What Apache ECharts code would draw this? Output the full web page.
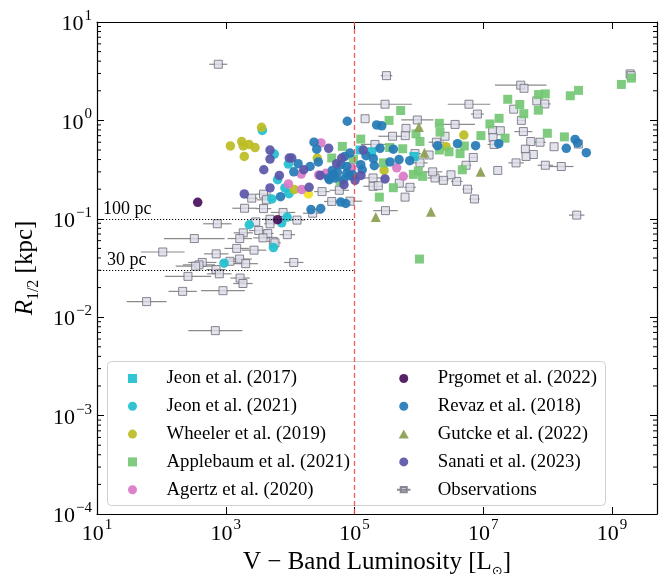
<!DOCTYPE html>
<html><head><meta charset="utf-8">
<script src="https://cdn.jsdelivr.net/npm/echarts@6/dist/echarts.min.js"></script>
<style>html,body{margin:0;padding:0;background:#fff}#c{width:663px;height:574px}</style>
</head><body><div id="c"></div>
<script>
// ---------- data: [V-band luminosity (Lsun), R_1/2 (kpc)] ----------
const jeon2017 = [[1.22e5,0.50],[1.85e5,0.48],[8.4e5,0.43]];
const jeon2021 = [[3700,0.79],[5680,0.455],[9400,0.36],[6400,0.25],[8300,0.206],[9600,0.18],[5200,0.159],[2320,0.087],[9000,0.104],[7400,0.091],[5500,0.051],[940,0.0354]];
const wheeler2019 = [[3600,0.85],[1770,0.61],[1870,0.55],[2300,0.57],[2850,0.53],[1180,0.55],[1940,0.43],[26400,0.415],[11600,0.198],[2.88e5,0.31],[2.64e6,0.54],[5.0e6,0.71]];
const wheelerBright = [[19200,0.179]];
const applebaum2021 = [[1.25e5,0.646],[6.47e4,0.544],[4.43e4,0.415],[9.6e4,0.40],[5.22e5,1.26],[3.44e5,1.0],[9.03e5,0.73],[1.04e6,0.61],[2.08e6,0.935],[2.13e6,0.76],[1.27e7,0.92],[1.76e7,1.05],[2.4e7,1.64],[9.2e6,0.70],[2.18e7,0.66],[3.69e7,1.45],[4.26e7,1.17],[7.18e7,1.27],[7.23e7,1.83],[9.2e7,1.86],[2.25e8,1.78],[3.02e8,2.02],[1.4e9,2.32],[2.0e9,2.69],[9.9e7,0.74],[1.82e8,0.68],[2.94e6,0.48],[2.08e6,0.50],[4.36e6,0.46],[4.73e6,0.315],[5.08e6,0.55],[5.61e5,0.515],[3.52e5,0.53],[2.81e5,0.37],[8.2e5,0.283],[9.8e5,0.305],[1.14e6,0.27],[4.01e5,0.207],[2.43e5,0.166],[1.02e6,0.039],[5.96e4,0.24]];
const agertz2020 = [[30200,0.59],[14900,0.285],[9400,0.226],[15100,0.198],[27800,0.279],[35700,0.29],[4.53e5,0.33],[5.73e5,0.27],[91000,0.33]];
const prgomet2022 = [[367,0.147],[6400,0.098]];
const revaz2018 = [[77300,0.98],[2.21e5,0.90],[2.65e5,0.88],[23500,0.60],[25900,0.51],[13300,0.363],[11400,0.30],[20400,0.34],[27400,0.378],[7100,0.168],[61100,0.148],[73100,0.143],[21100,0.124],[29900,0.127],[85100,0.466],[45200,0.31],[61100,0.355],[75700,0.341],[54100,0.296],[75700,0.29],[39700,0.26],[49800,0.26],[67000,0.25],[83000,0.274],[70500,0.43],[40600,0.25],[46900,0.28],[93800,0.28],[1.51e5,0.438],[1.96e5,0.408],[1.25e5,0.355],[1.32e5,0.315],[2.03e5,0.346],[3.56e5,0.378],[4.92e5,0.40],[4.01e5,0.51],[2.49e5,0.52],[7.21e5,0.39],[1.95e6,0.553],[3.98e6,0.58],[7.6e6,0.553],[1.74e7,0.58],[2.67e8,0.64],[2.92e8,0.59],[1.95e8,0.52],[3.99e8,0.47]];
const gutcke2022 = [[1.0e6,0.855],[1.22e6,0.47],[9.1e6,0.30],[2.14e5,0.104],[1.54e6,0.118]];
const sanati2023 = [[4870,0.50],[4870,0.405],[3900,0.315],[9700,0.415],[10600,0.415],[16300,0.315],[6800,0.276],[4870,0.206],[1940,0.179],[19700,0.209],[29400,0.276],[39700,0.52],[52900,0.363],[63300,0.415],[68700,0.222],[1.02e5,0.246],[1.37e5,0.50],[2.98e5,0.254],[1.26e5,0.276]];
// observations: [L, R, half-width of L error bar in dex]
const observations = [[766,3.72,0.14],[3.14e5,2.85,0.09],[2.98e5,1.46,0.42],[1.46e5,1.04,0],[6.0e6,1.46,0.33],[8.1e6,1.16,0.1],[3.82e7,2.28,0.4],[4.3e7,2.12,0],[6.78e7,1.58,0],[9.06e7,1.47,0.09],[2.97e7,1.30,0],[3.91e7,1.0,0.06],[1.91e9,2.97,0.05],[1.98e9,2.85,0.05],[9.46e5,1.01,0.25],[6.31e5,0.83,0],[3.9e5,0.69,0.22],[6.15e5,0.70,0],[3.65e6,0.91,0.31],[2.55e6,0.69,0],[1.4e7,0.79,0],[1.84e7,0.785,0],[1.42e7,0.67,0],[1.47e7,0.57,0.1],[4.2e7,0.77,0.14],[5.47e7,0.61,0],[7.62e7,0.60,0.09],[1.26e8,0.54,0],[3.0e8,0.575,0],[4.51e7,0.51,0],[6.0e7,0.45,0],[4.62e7,0.43,0],[3.23e7,0.37,0.12],[9.2e7,0.35,0.12],[1.63e8,0.34,0.19],[2.83e8,0.109,0.12],[1.68e7,0.31,0],[7.0e6,0.42,0.06],[5.4e6,0.35,0.08],[7.3e6,0.159,0.08],[5.7e6,0.2,0.08],[3.87e6,0.24,0.09],[3.15e6,0.28,0],[2.4e6,0.246,0.08],[1.78e6,0.26,0.12],[1.64e6,0.30,0.15],[1.87e6,0.60,0.12],[1.44e6,0.445,0],[8.71e5,0.46,0.09],[1.04e6,0.37,0.12],[7.28e5,0.209,0.09],[6.1e5,0.166,0],[4.97e5,0.23,0],[1.94e5,0.26,0.15],[1.94e5,0.214,0.15],[2.34e5,0.217,0],[3.03e5,0.121,0.19],[2.08e5,0.57,0.22],[8.51e4,0.151,0.19],[4.43e4,0.150,0.12],[5.81e4,0.195,0.15],[3.13e4,0.189,0.12],[2.24e4,0.114,0.15],[1.28e4,0.097,0.12],[7760,0.116,0.19],[4870,0.099,0.12],[4870,0.089,0.09],[3860,0.127,0.12],[1960,0.128,0.19],[2530,0.162,0.09],[3860,0.178,0.12],[4270,0.156,0.15],[740,0.089,0.22],[2920,0.093,0],[1870,0.072,0.15],[3250,0.076,0.15],[4490,0.071,0.09],[1650,0.063,0.19],[3790,0.064,0.15],[9040,0.069,0.12],[325,0.063,0.47],[5480,0.059,0.09],[5820,0.057,0.09],[1480,0.050,0.19],[2750,0.048,0.19],[105,0.046,0.34],[711,0.044,0.19],[1640,0.039,0.19],[1160,0.037,0.15],[2040,0.035,0.19],[432,0.036,0.22],[384,0.034,0.25],[341,0.033,0.31],[11400,0.036,0.15],[706,0.0305,0.15],[794,0.0276,0.19],[259,0.026,0.36],[1670,0.025,0.15],[1850,0.022,0.15],[214,0.0183,0.22],[906,0.0186,0.34],[59,0.0144,0.31],[689,0.0073,0.42]];
// reference lines
const refLuminosity = 1e5;
const refRadii = [0.1, 0.03];
const refRadiusLabels = ['100 pc', '30 pc'];
// axis ticks
const minorMantissas = [2,3,4,5,6,7,8,9];
const yDecades = [1e-4,1e-3,1e-2,1e-1,1];

const F = 'Liberation Serif';
function powLabel(v){
  const e = Math.log10(v), r = Math.round(e);
  if (Math.abs(e - r) > 1e-6) return '';
  return '{b|10}{s|' + (r < 0 ? '\u2212' + (-r) : r) + '}';
}
const tickRich = {
  b: {fontFamily: F, fontSize: 22, color: '#000', verticalAlign: 'bottom', padding: [5,0,0,0]},
  s: {fontFamily: F, fontSize: 15, color: '#000', verticalAlign: 'top', padding: [0,0,0,1]}
};
const minorY = [];
yDecades.forEach(d => minorMantissas.forEach(m => minorY.push(m * d)));

const SQUARE_ICON = 'path://M0,0L10,0L10,10L0,10Z';
const TRI_ICON = 'path://M5,0L10,9L0,9Z';
const OBS_ICON = 'path://M9,-1L9,-1M9,11L9,11M0,5L18,5M5,1.5L13,1.5L13,8.5L5,8.5Z';

const chart = echarts.init(document.getElementById('c'));
const sim = (name, data, color, symbol, size) => ({
  name, type: 'scatter', data, symbol, symbolSize: size, silent: true, z: 3,
  itemStyle: {color, opacity: 0.92}
});
const xBase = {type: 'log', logBase: 10, min: 10, max: 5e9, interval: 2,
  axisLine: {show: true, lineStyle: {color: '#000', width: 1.2}},
  axisTick: {show: true, inside: true, length: 7, lineStyle: {color: '#000'}},
  splitLine: {show: false}};
const yBase = {type: 'log', logBase: 10, min: 1e-4, max: 10, interval: 1,
  axisLine: {show: true, lineStyle: {color: '#000', width: 1.2}},
  axisTick: {show: true, inside: true, length: 7, lineStyle: {color: '#000'}},
  splitLine: {show: false}};
const legendText = {fontFamily: F, fontSize: 18.8, color: '#000', lineHeight: 16};

const option = {
  animation: false,
  backgroundColor: '#fff',
  textStyle: {fontFamily: F},
  grid: {left: 97, right: 6, top: 22, bottom: 60, containLabel: false, outerBoundsMode: 'none'},
  xAxis: [
    Object.assign({}, xBase, {position: 'bottom',
      axisLabel: {formatter: powLabel, margin: 4, rich: tickRich, showMinLabel: true, showMaxLabel: true},
      name: '{t|V \u2212 Band Luminosity [L}{u|\u2299}{t|]}', nameLocation: 'middle', nameGap: 27,
      nameTextStyle: {rich: {
        t: {fontFamily: F, fontSize: 25, color: '#000', verticalAlign: 'top', padding: [0,0,3,0]},
        u: {fontFamily: 'DejaVu Sans', fontSize: 13, color: '#000', verticalAlign: 'bottom'}}}}),
    Object.assign({}, xBase, {position: 'top', axisLabel: {show: false}})
  ],
  yAxis: [
    Object.assign({}, yBase, {position: 'left',
      axisLabel: {formatter: powLabel, margin: 5, rich: tickRich, showMinLabel: true, showMaxLabel: true},
      name: '{i|R}{sub|1/2}{t| [kpc]}', nameLocation: 'middle', nameGap: 54, nameRotate: 90,
      nameTextStyle: {rich: {
        i: {fontFamily: F, fontStyle: 'italic', fontSize: 25, color: '#000', verticalAlign: 'top', padding: [0,0,4,0]},
        sub: {fontFamily: F, fontSize: 16, color: '#000', verticalAlign: 'bottom'},
        t: {fontFamily: F, fontSize: 25, color: '#000', verticalAlign: 'top', padding: [0,0,4,0]}}}}),
    Object.assign({}, yBase, {position: 'right', axisLabel: {show: false}})
  ],
  legend: [
    {data: [{name: 'Jeon et al. (2017)', icon: SQUARE_ICON}, 'Jeon et al. (2021)', 'Wheeler et al. (2019)',
            {name: 'Applebaum et al. (2021)', icon: SQUARE_ICON}, 'Agertz et al. (2020)'],
     orient: 'vertical', left: 128, top: 369, padding: 0, itemWidth: 58, itemHeight: 9, itemGap: 8.8,
     selectedMode: false, z: 6, textStyle: legendText},
    {data: ['Prgomet et al. (2022)', 'Revaz et al. (2018)', {name: 'Gutcke et al. (2022)', icon: TRI_ICON},
            'Sanati et al. (2023)', {name: 'Observations', icon: OBS_ICON}],
     orient: 'vertical', left: 396, top: 369, padding: 0, itemWidth: 58, itemHeight: 9, itemGap: 8.8,
     selectedMode: false, z: 6, textStyle: legendText}
  ],
  graphic: [{type: 'rect', z: 5, silent: true, left: 107, top: 361,
    shape: {width: 498, height: 144, r: 4},
    style: {fill: 'rgba(255,255,255,0.8)', stroke: '#d0d0d0', lineWidth: 1}}],
  series: [
    {type: 'custom', name: 'minorTicks', silent: true, z: 2, clip: false,
     data: minorY.map(v => [10, v]),
     renderItem: (params, api) => {
       const cs = params.coordSys;
       const y = api.coord([10, api.value(1)])[1];
       return {type: 'group', children: [
         {type: 'line', shape: {x1: cs.x, y1: y, x2: cs.x + 4, y2: y}, style: {stroke: '#000', lineWidth: 1}},
         {type: 'line', shape: {x1: cs.x + cs.width - 4, y1: y, x2: cs.x + cs.width, y2: y}, style: {stroke: '#000', lineWidth: 1}}
       ]};
     }},
    {type: 'custom', name: 'obsErr', silent: true, z: 2,
     data: observations,
     encode: {x: 0, y: 1},
     renderItem: (params, api) => {
       const L = api.value(0), R = api.value(1), e = api.value(2);
       if (!e) return null;
       const p1 = api.coord([L / Math.pow(10, e), R]), p2 = api.coord([L * Math.pow(10, e), R]);
       return {type: 'line', shape: {x1: p1[0], y1: p1[1], x2: p2[0], y2: p2[1]},
               style: {stroke: '#8a8a8a', lineWidth: 1.2}};
     }},
    {name: 'Observations', type: 'scatter', silent: true, z: 2, symbol: 'rect', symbolSize: 8,
     data: observations.map(d => [d[0], d[1]]),
     itemStyle: {color: '#dcdce8', borderColor: '#6c6c78', borderWidth: 1}},
    sim('Jeon et al. (2017)', jeon2017, '#1fbfcf', 'rect', 9),
    sim('Jeon et al. (2021)', jeon2021, '#1fbfcf', 'circle', 9.5),
    sim('Wheeler et al. (2019)', wheeler2019, '#bcbd22', 'circle', 9.5),
    sim('', wheelerBright, '#f2e11a', 'circle', 9.5),
    sim('Applebaum et al. (2021)', applebaum2021, '#74c774', 'rect', 9),
    sim('Agertz et al. (2020)', agertz2020, '#da78c8', 'circle', 9.5),
    sim('Prgomet et al. (2022)', prgomet2022, '#4a0f5c', 'circle', 9.5),
    sim('Revaz et al. (2018)', revaz2018, '#2479b5', 'circle', 9.5),
    sim('Gutcke et al. (2022)', gutcke2022, '#8b9e50', 'triangle', 10),
    sim('Sanati et al. (2023)', sanati2023, '#5a55a8', 'circle', 9.5),
    {type: 'scatter', name: 'refs', data: [], silent: true, z: 4,
     markLine: {silent: true, symbol: ['none', 'none'], animation: false,
       data: [
         {xAxis: refLuminosity, label: {show: false},
          lineStyle: {color: '#f04a4a', type: [5, 3], width: 1.3, opacity: 0.9}},
         [{coord: [10, refRadii[0]], label: {show: true, position: 'insideStartTop', formatter: refRadiusLabels[0],
             fontFamily: F, fontSize: 18, color: '#000', distance: [6, 1]},
           lineStyle: {color: '#000', type: [1.2, 1.8], width: 1}},
          {coord: [refLuminosity, refRadii[0]]}],
         [{coord: [10, refRadii[1]], label: {show: true, position: 'insideStartTop', formatter: refRadiusLabels[1],
             fontFamily: F, fontSize: 18, color: '#000', distance: [10, 1]},
           lineStyle: {color: '#000', type: [1.2, 1.8], width: 1}},
          {coord: [refLuminosity, refRadii[1]]}]
       ]}}
  ]
};
chart.setOption(option);
</script>
</body></html>
